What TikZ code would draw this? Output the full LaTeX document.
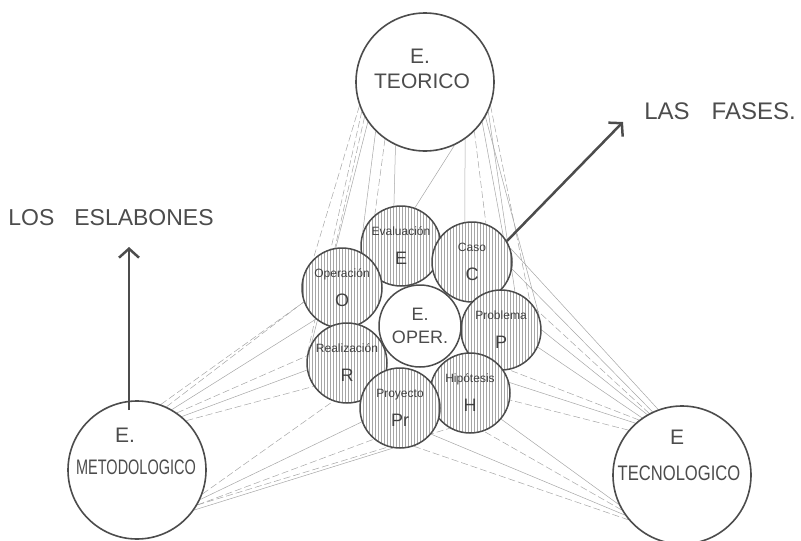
\documentclass[tikz,border=0pt]{standalone}
\usepackage{fontspec}
\setmainfont{Liberation Sans}
\usepackage{graphicx}
\usetikzlibrary{arrows.meta,patterns}
\begin{document}
\begin{tikzpicture}[x=1pt,y=-1pt,
 big/.style={circle,draw=black!70,line width=1.6pt,minimum size=138pt,inner sep=0pt,fill=white},
 small/.style={circle,draw=black!70,line width=1.5pt,minimum size=80pt,inner sep=0pt,align=center,text=black!75,
   font=\fontsize{12}{29}\selectfont,pattern=vertical lines,pattern color=black!35,preaction={fill=white}},
 center/.style={circle,draw=black!70,line width=1.5pt,minimum size=82pt,inner sep=0pt,align=center,fill=white,
   text=black!70,font=\fontsize{18}{23}\selectfont},
 lbl/.style={text=black!70,inner sep=0pt},
 link/.style={draw=black!35,line width=0.5pt},
 dlink/.style={link,dash pattern=on 7pt off 3pt},
 arr/.style={draw=black!70,line width=2.5pt,-{Straight Barb[length=9pt,width=20pt,line width=2.5pt]}}
]
\useasboundingbox (0,0) rectangle (801,541);
% anchor-only placement of circles (drawn after links)
\path
 (425,82) node[big,draw=none,fill=none] (teo) {}
 (137,470) node[big,draw=none,fill=none] (met) {}
 (682,475) node[big,draw=none,fill=none] (tec) {}
 (401,246) node[small,draw=none,pattern=none,preaction={}] (ev) {}
 (472,262) node[small,draw=none,pattern=none,preaction={}] (ca) {}
 (342,288) node[small,draw=none,pattern=none,preaction={}] (op) {}
 (501,330) node[small,draw=none,pattern=none,preaction={}] (pr) {}
 (347,363) node[small,draw=none,pattern=none,preaction={}] (re) {}
 (470,393) node[small,draw=none,pattern=none,preaction={}] (hi) {}
 (400,408) node[small,draw=none,pattern=none,preaction={}] (py) {}
 (420,326) node[center,draw=none,fill=none] (cen) {};

% links from E. TEORICO
\draw[dlink] (teo.200) -- (op.135);
\draw[dlink] (teo.210) -- (op.100);
\draw[link] (teo.215) -- (re.150);
\draw[dlink] (teo.205) -- (re.170);
\draw[link] (teo.225) -- (ev.160);
\draw[dlink] (teo.235) -- (ev.130);
\draw[link] (teo.245) -- (ev.100);
\draw[link] (teo.295) -- (ev.70);
\draw[link] (teo.305) -- (ca.100);
\draw[dlink] (teo.315) -- (ca.70);
\draw[link] (teo.325) -- (ca.40);
\draw[link] (teo.335) -- (pr.70);
\draw[dlink] (teo.340) -- (pr.45);
\draw[link] (teo.330) -- (pr.20);
% links from E. METODOLOGICO
\draw[dlink] (met.65) -- (op.200);
\draw[link] (met.60) -- (op.230);
\draw[dlink] (met.55) -- (re.170);
\draw[link] (met.50) -- (re.190);
\draw[dlink] (met.45) -- (re.215);
\draw[dlink] (met.70) -- (ev.200);
\draw[dlink] (met.-20) -- (re.250);
\draw[link] (met.-25) -- (py.200);
\draw[dlink] (met.-30) -- (py.230);
\draw[link] (met.-35) -- (py.260);
\draw[dlink] (met.-30) -- (hi.240);
% links from E TECNOLOGICO
\draw[link] (tec.110) -- (ca.20);
\draw[link] (tec.115) -- (ca.-10);
\draw[dlink] (tec.118) -- (pr.30);
\draw[link] (tec.120) -- (pr.0);
\draw[link] (tec.125) -- (pr.-25);
\draw[dlink] (tec.128) -- (hi.40);
\draw[link] (tec.132) -- (hi.15);
\draw[dlink] (tec.140) -- (hi.-10);
\draw[link] (tec.205) -- (hi.-40);
\draw[dlink] (tec.210) -- (hi.-70);
\draw[link] (tec.215) -- (py.-40);
\draw[dlink] (tec.220) -- (py.-70);

% big circles
\node[big] (teoC) at (teo) {};
\node[big] (metC) at (met) {};
\node[big] (tecC) at (tec) {};
\node[lbl,font=\fontsize{21}{21}\selectfont] (teo1) at (420,56) {E.};
\node[lbl,font=\fontsize{21}{21}\selectfont] (teo2) at (422,81) {TEORICO};
\node[lbl,font=\fontsize{21}{21}\selectfont] (met1) at (125,435) {E.};
\node[lbl,font=\fontsize{21}{21}\selectfont] (met2) at (136,467) {\scalebox{0.69}[1]{METODOLOGICO}};
\node[lbl,font=\fontsize{21}{21}\selectfont] (tec1) at (677,437) {E};
\node[lbl,font=\fontsize{21}{21}\selectfont] (tec2) at (679,473) {\scalebox{0.79}[1]{TECNOLOGICO}};

% small circles
\node[small] (evC) at (ev) {Evaluación\\{\fontsize{18}{18}\selectfont E}};
\node[small] (caC) at (ca) {Caso\\{\fontsize{18}{18}\selectfont C}};
\node[small] (opC) at (op) {Operación\\{\fontsize{18}{18}\selectfont O}};
\node[small] (prC) at (pr) {Problema\\{\fontsize{18}{18}\selectfont P}};
\node[small] (reC) at (re) {Realización\\{\fontsize{18}{18}\selectfont R}};
\node[small] (hiC) at (hi) {Hipótesis\\{\fontsize{18}{18}\selectfont H}};
\node[small] (pyC) at (py) {Proyecto\\{\fontsize{18}{18}\selectfont Pr}};
\node[center] (cenC) at (cen) {E.\\OPER.};

% arrows and their labels
\coordinate (esltip) at (129,247);
\coordinate (fastip) at (623,122);
\draw[arr] ([yshift=-10pt]metC.north -| esltip) -- (esltip);
\draw[arr] (caC.31) -- (fastip);
\node[lbl,font=\fontsize{23}{23}\selectfont] (esl) at (111,218) {LOS\hspace{20pt}ESLABONES};
\node[lbl,font=\fontsize{24}{24}\selectfont] (fas) at (720,111) {LAS\hspace{22pt}FASES.};
\end{tikzpicture}
\end{document}
